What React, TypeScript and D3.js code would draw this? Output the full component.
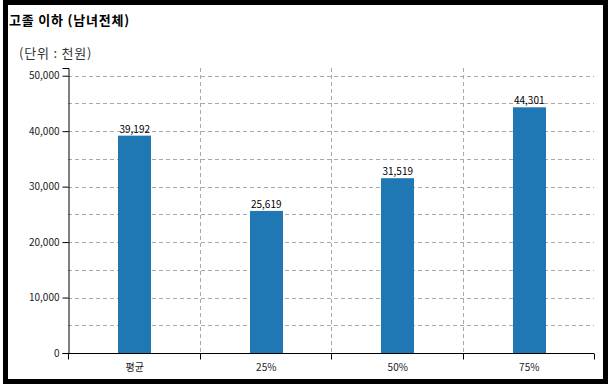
import { useEffect, useRef } from "react";
import * as d3 from "d3";

const categories = ["평균", "25%", "50%", "75%"];
const values = [39192, 25619, 31519, 44301];
const yTicks = [0, 10000, 20000, 30000, 40000, 50000];
const gridTicks = [5000, 10000, 15000, 20000, 25000, 30000, 35000, 40000, 45000, 50000];

const W = 610;
const H = 388;
const FONT = "'Noto Sans CJK KR', 'Noto Sans', sans-serif";

export default function App() {
  const ref = useRef<SVGSVGElement>(null);

  useEffect(() => {
    if (!ref.current) return;
    const svg = d3.select(ref.current);
    svg.selectAll("*").remove();

    const left = 68, right = 594, top = 68, bottom = 353;

    const x = d3.scaleBand<string>().domain(categories).range([left, right]);
    const y = d3.scaleLinear()
      .domain([0, (d3.max(values) ?? 0) * 1.16])
      .range([bottom, top]);

    // frame
    svg.append("rect")
      .attr("x", 5.5).attr("y", 2.5)
      .attr("width", 600).attr("height", 379)
      .attr("fill", "white")
      .attr("stroke", "#000").attr("stroke-width", 5);

    svg.append("text")
      .attr("x", 9).attr("y", 25)
      .attr("font-family", FONT).attr("font-size", 13).attr("font-weight", "bold")
      .attr("letter-spacing", 0.8)
      .attr("fill", "#000")
      .text("고졸 이하 (남녀전체)");

    svg.append("text")
      .attr("x", 19).attr("y", 58)
      .attr("font-family", FONT).attr("font-size", 13)
      .attr("letter-spacing", 0.8)
      .attr("fill", "#333")
      .text("(단위 : 천원)");

    // grid
    const grid = svg.append("g")
      .attr("stroke", "#aaa").attr("stroke-dasharray", "4,3").attr("stroke-width", 1);
    grid.selectAll("line.h")
      .data(gridTicks)
      .join("line")
      .attr("class", "h")
      .attr("x1", left).attr("x2", right)
      .attr("y1", (d) => Math.round(y(d)) + 0.5)
      .attr("y2", (d) => Math.round(y(d)) + 0.5);

    const bounds = categories.slice(1).map((c) => x(c)!);
    grid.selectAll("line.v")
      .data(bounds)
      .join("line")
      .attr("class", "v")
      .attr("x1", (d) => Math.round(d) + 0.5).attr("x2", (d) => Math.round(d) + 0.5)
      .attr("y1", top).attr("y2", bottom);

    // bars
    const bw = x.bandwidth() * 0.25;
    svg.append("g")
      .selectAll("rect")
      .data(values)
      .join("rect")
      .attr("x", (_d, i) => Math.round(x(categories[i])! + x.bandwidth() / 2 - bw / 2) + 1)
      .attr("y", (d) => y(d))
      .attr("width", Math.round(bw))
      .attr("height", (d) => bottom - y(d))
      .attr("fill", "#1f77b4");

    svg.append("g")
      .selectAll("text")
      .data(values)
      .join("text")
      .attr("x", (_d, i) => x(categories[i])! + x.bandwidth() / 2 + 1)
      .attr("y", (d) => y(d) - 3)
      .attr("text-anchor", "middle")
      .attr("font-family", FONT).attr("font-size", 10)
      .attr("fill", "#000")
      .text((d) => d3.format(",")(d));

    // y axis
    const yAxis = svg.append("g")
      .attr("transform", `translate(${left + 0.5},0)`)
      .call(d3.axisLeft(y).tickValues(yTicks).tickFormat(d3.format(",")));
    yAxis.selectAll("text").attr("font-family", FONT).attr("font-size", 10).attr("fill", "#222");
    yAxis.selectAll("path, line").attr("stroke", "#000");

    // x axis
    const xAxis = svg.append("g").attr("transform", `translate(0,${bottom + 0.5})`);
    xAxis.append("line")
      .attr("x1", left).attr("x2", right)
      .attr("stroke", "#000");
    xAxis.selectAll("line.tick")
      .data([left, ...bounds, right])
      .join("line")
      .attr("class", "tick")
      .attr("x1", (d) => Math.round(d) + 0.5).attr("x2", (d) => Math.round(d) + 0.5)
      .attr("y1", 0).attr("y2", 6)
      .attr("stroke", "#000");
    xAxis.selectAll("text")
      .data(categories)
      .join("text")
      .attr("x", (d) => x(d)! + x.bandwidth() / 2 + 1)
      .attr("y", 17)
      .attr("text-anchor", "middle")
      .attr("font-family", FONT).attr("font-size", 10)
      .attr("fill", "#222")
      .text((d) => d);
  }, []);

  return (
    <svg
      ref={ref}
      width={W}
      height={H}
      style={{ position: "absolute", left: 0, top: 0, background: "white" }}
    />
  );
}
